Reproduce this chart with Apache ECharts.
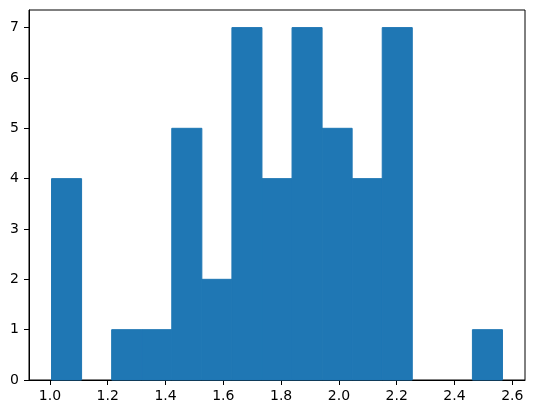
<!DOCTYPE html>
<html>
<head>
<meta charset="utf-8">
<script src="https://cdn.jsdelivr.net/npm/echarts@6/dist/echarts.min.js"></script>
<style>
  html, body { margin: 0; padding: 0; background: #fff; }
  #chart { width: 534px; height: 413px; }
</style>
</head>
<body>
<div id="chart"></div>
<script>
// bin edges of the histogram (16 edges -> 15 bins)
const binEdges = [1.0055, 1.1095, 1.2136, 1.3176, 1.4216, 1.5257, 1.6297, 1.7337,
                  1.8378, 1.9418, 2.0458, 2.1499, 2.2539, 2.3579, 2.4620, 2.5660];
// count in each bin
const counts = [4, 0, 1, 1, 5, 2, 7, 4, 7, 5, 4, 7, 0, 0, 1];
const xTicks = [1.0, 1.2, 1.4, 1.6, 1.8, 2.0, 2.2, 2.4, 2.6];
const yTicks = [0, 1, 2, 3, 4, 5, 6, 7];

const chart = echarts.init(document.getElementById('chart'), null, { renderer: 'canvas' });

// build [start, end, count] items for the custom series
const bins = counts.map((c, i) => [binEdges[i], binEdges[i + 1], c]);

const font = 'DejaVu Sans';

const option = {
  animation: false,
  grid: {
    left: 29, right: 9, top: 10, bottom: 33,
    show: true,
    borderColor: '#000',
    borderWidth: 1
  },
  xAxis: {
    type: 'value',
    min: 0.9275,
    max: 2.644,
    axisLine: { show: true, onZero: false, lineStyle: { color: '#000', width: 1 } },
    axisTick: { show: true, length: 5, customValues: xTicks, lineStyle: { color: '#000' } },
    axisLabel: {
      customValues: xTicks,
      margin: 9,
      color: '#000',
      fontFamily: font,
      fontSize: 14,
      formatter: v => v.toFixed(1)
    },
    splitLine: { show: false }
  },
  yAxis: {
    type: 'value',
    min: 0,
    max: 7.35,
    axisLine: { show: true, lineStyle: { color: '#000', width: 1 } },
    axisTick: { show: true, length: 5, customValues: yTicks, lineStyle: { color: '#000' } },
    axisLabel: {
      customValues: yTicks,
      margin: 10,
      color: '#000',
      fontFamily: font,
      fontSize: 14,
      formatter: v => String(v)
    },
    splitLine: { show: false }
  },
  series: [{
    type: 'custom',
    data: bins,
    encode: { x: [0, 1], y: 2 },
    renderItem: (params, api) => {
      // empty bins draw nothing
      if (!api.value(2)) return { type: 'group', children: [] };
      const p0 = api.coord([api.value(0), 0]);
      const p1 = api.coord([api.value(1), api.value(2)]);
      return {
        type: 'rect',
        shape: { x: p0[0], y: p1[1], width: p1[0] - p0[0], height: p0[1] - p1[1] },
        style: { fill: '#1f77b4', stroke: '#1f77b4', lineWidth: 1 }
      };
    }
  }]
};

chart.setOption(option);
</script>
</body>
</html>
